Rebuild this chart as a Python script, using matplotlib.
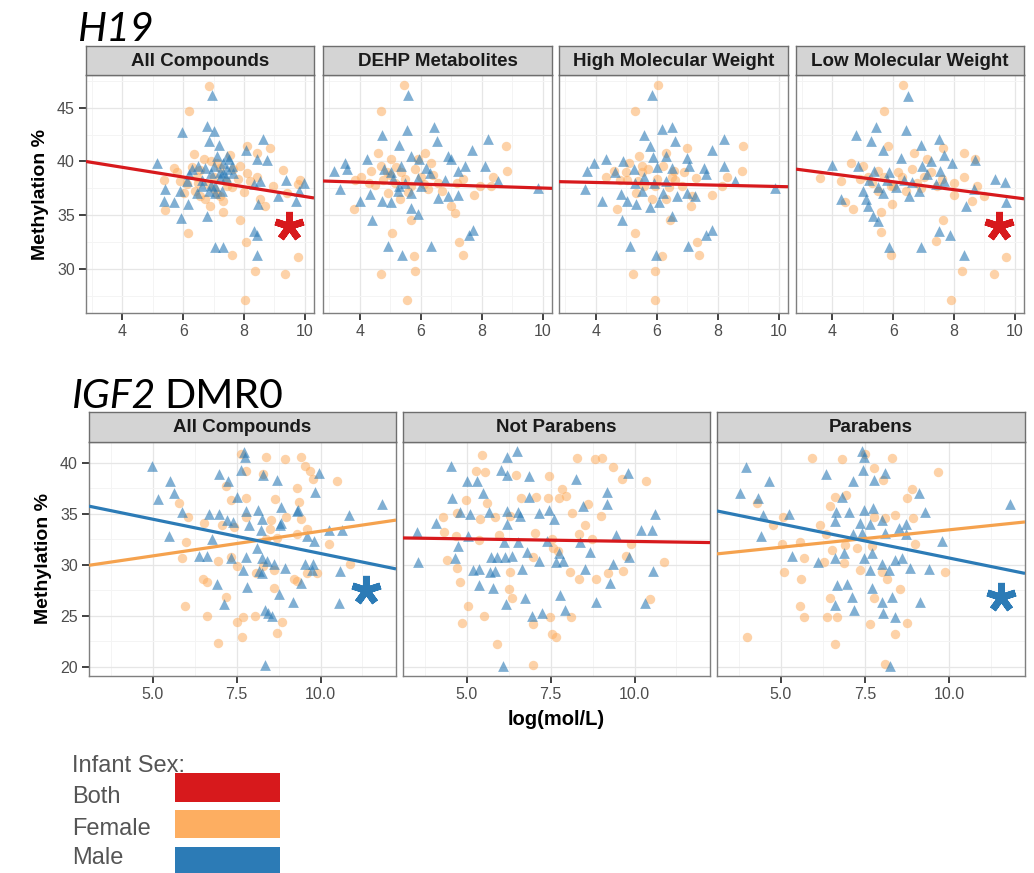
import matplotlib
matplotlib.use('Agg')
import matplotlib.pyplot as plt
from matplotlib.patches import Rectangle
from matplotlib.ticker import MultipleLocator

# ---------------- data ----------------
RED, ORANGE, BLUE = '#D7191C', '#FDAE61', '#2C7BB6'

h19_panels = ['All Compounds', 'DEHP Metabolites', 'High Molecular Weight', 'Low Molecular Weight']
igf2_panels = ['All Compounds', 'Not Parabens', 'Parabens']

h19_all_female = [(6.86,47.0),(6.19,44.7),(6.34,40.7),(7.54,40.6),(8.09,41.4),(8.42,40.8),(8.85,41.3),(9.27,39.2),
    (9.84,38.3),(9.76,37.9),(5.68,39.4),(5.36,38.3),(5.41,35.5),(6.14,33.3),(7.87,34.6),(8.07,32.5),(7.6,31.3),
    (8.36,29.8),(9.34,29.5),(9.76,31.1),(8.03,27.1),(7.32,35.3),(6.89,35.9),(6.56,36.8),(8.52,36.5),(8.68,35.9),
    (8.42,38.6),(8.2,38.2),(7.65,39.3),(7.1,39.9),(6.67,40.2),(6.45,38.6),(6.12,37.9),(5.79,39.0),(7.0,37.4),
    (7.43,37.7),(7.87,39.6),(8.96,37.7),(9.4,37.1),(6.56,39.2),(6.01,37.1),(7.21,36.8),(8.09,38.9),
    (6.3,39.5),(6.5,38.0),(6.8,37.9),(7.0,38.6),(7.2,39.4),(7.4,38.2),(7.6,37.6),(7.8,38.4),(6.9,40.0),
    (6.4,37.3),(7.3,36.3),(6.7,36.5),(8.0,37.2),(5.9,38.2),(7.1,37.0)]
h19_all_male = [(6.93,46.2),(5.97,42.7),(6.78,43.3),(7.0,42.8),(6.86,41.9),(7.16,41.5),(8.63,42.1),(8.07,41.1),
    (8.42,40.2),(8.74,40.1),(5.14,39.9),(6.28,39.3),(6.72,39.4),(7.32,39.9),(7.43,39.3),(7.65,38.9),(7.21,38.5),
    (7.05,37.7),(6.83,37.3),(6.45,37.1),(6.12,38.2),(5.9,37.3),(5.41,37.4),(5.36,36.3),(5.68,36.2),(6.17,36.0),
    (5.93,34.7),(6.61,37.7),(6.78,34.9),(7.05,37.1),(7.27,37.3),(8.31,37.9),(8.52,38.2),(9.38,38.3),(9.98,38.0),
    (9.82,37.3),(9.71,36.3),(8.47,36.0),(7.05,32.0),(7.32,32.0),(8.33,33.5),(8.44,33.2),(8.44,31.3),(9.13,36.8),
    (7.2,39.0),(7.4,38.6),(6.9,38.9),(7.5,40.2),(7.1,40.5),(6.6,38.3),
    (6.5,39.6),(6.9,37.8),(7.3,38.9),(7.6,39.6),(6.2,38.8),(7.0,39.6),(7.45,40.5)]

h19_dehp_female = [(5.45,47.1),(4.69,44.7),(8.8,41.4),(8.83,39.1),(8.36,38.6),(7.93,37.7),(7.76,36.9),(3.81,35.6),
    (7.0,35.9),(7.11,35.2),(5.06,33.3),(7.27,32.5),(7.38,31.3),(5.78,31.2),(5.82,29.8),(4.71,29.5),(5.55,27.1),
    (5.69,34.6),(4.6,40.8),(5.04,40.2),(6.13,40.8),(6.35,39.9),(4.05,38.6),(4.38,39.1),(4.76,38.3),(5.15,38.0),
    (5.36,39.0),(5.69,37.7),(6.02,38.6),(6.24,37.4),(6.56,38.0),(4.93,37.1),(4.71,39.6),(5.91,40.2),(5.31,36.5),
    (8.31,37.7),(3.84,38.3),
    (4.9,39.0),(5.2,39.5),(5.5,38.4),(5.8,39.3),(6.1,37.9),(4.5,37.8),(5.0,38.7),(5.6,37.2),(6.4,38.7),
    (4.3,38.0),(6.7,37.3),(7.4,38.4),(7.2,38.0)]
h19_dehp_male = [(5.58,46.2),(5.56,42.9),(4.73,42.5),(6.42,43.2),(6.54,41.9),(8.2,42.1),(7.68,41.1),(3.16,39.1),
    (3.51,39.9),(3.6,39.3),(3.35,37.4),(4.25,40.2),(5.28,41.5),(5.69,40.5),(5.96,40.2),(6.89,40.5),(7.0,40.2),
    (7.44,39.6),(7.22,39.1),(8.11,39.6),(8.53,38.2),(9.84,37.5),(4.0,36.3),(4.33,37.0),(4.73,36.3),(5.04,36.2),
    (5.25,37.3),(5.69,35.7),(5.91,35.1),(5.69,37.1),(6.56,36.6),(6.89,36.8),(7.22,36.9),(4.4,34.6),(4.93,32.1),
    (5.39,31.3),(6.35,32.1),(7.57,33.2),(7.71,33.6),(5.04,39.0),(5.36,39.6),(6.18,39.4),(6.78,38.3),(6.02,37.7),
    (5.1,38.4),(5.5,38.0),(5.9,38.5),(6.3,38.9),(4.8,39.3),(5.3,37.7)]

h19_high_female = [(6.05,47.1),(5.28,44.7),(8.83,41.4),(8.8,39.1),(8.31,38.6),(7.82,36.9),(4.69,35.6),(7.11,35.9),
    (5.29,33.3),(7.33,32.5),(7.4,31.3),(6.16,31.2),(5.94,29.8),(5.23,29.5),(5.93,27.1),(6.45,34.6),(7.0,41.3),
    (6.29,40.8),(5.42,40.5),(5.09,39.9),(4.33,38.6),(4.6,39.1),(5.04,38.3),(5.53,39.0),(5.96,37.7),(6.51,38.6),
    (6.84,37.7),(5.31,37.1),(5.85,36.5),(8.15,37.7),(7.16,36.8),(5.53,39.6),(6.56,39.1),(6.29,36.5),
    (5.4,38.2),(5.7,39.3),(6.0,38.4),(6.2,39.6),(6.4,37.6),(5.0,39.0),(5.6,37.7),(6.6,38.3),(6.9,39.0),
    (7.3,38.5),(4.8,38.3)]
h19_high_male = [(5.85,46.2),(5.58,42.5),(6.16,43.0),(6.49,43.2),(6.6,41.9),(5.77,41.4),(8.2,42.1),(7.82,41.1),
    (3.73,39.1),(3.95,39.9),(4.33,40.2),(3.65,37.4),(4.22,36.3),(4.82,37.0),(5.04,36.3),(5.31,36.0),(5.77,35.8),
    (6.07,36.2),(6.51,34.9),(4.87,34.6),(5.11,32.1),(5.99,31.3),(7.03,32.1),(7.6,33.2),(7.8,33.6),(4.64,39.0),
    (4.91,40.0),(5.24,39.3),(5.88,40.4),(6.29,40.5),(7.0,40.3),(7.05,39.6),(7.55,39.4),(7.6,38.8),(8.2,39.6),
    (8.56,38.2),(9.86,37.5),(5.53,37.3),(6.2,37.1),(6.67,36.8),(7.0,37.1),(7.27,36.8),
    (5.6,38.6),(5.9,38.0),(6.3,38.2),(6.0,39.5),(6.5,39.4),(5.3,38.0)]

h19_low_female = [(6.33,47.1),(5.71,44.7),(5.82,41.4),(6.68,40.8),(7.64,41.3),(8.32,40.8),(8.7,40.2),(4.62,39.9),
    (4.29,38.2),(3.59,38.5),(4.4,36.2),(4.67,35.6),(5.58,35.3),(5.58,33.4),(5.92,31.3),(7.41,32.6),(7.64,34.6),
    (7.91,27.1),(8.26,29.8),(9.32,29.5),(9.71,31.1),(8.97,36.8),(8.59,36.3),(7.99,36.9),(5.96,36.0),(5.16,38.6),
    (5.49,39.1),(6.14,39.0),(6.79,38.0),(7.23,39.0),(7.45,37.7),(8.32,38.6),(8.75,37.7),(6.41,37.3),(5.92,37.7),
    (5.0,39.6),(7.12,40.2),
    (5.3,38.0),(5.7,38.6),(6.0,37.7),(6.3,38.6),(6.6,39.3),(6.9,37.5),(7.0,38.6),(7.6,38.4),(5.5,37.3),
    (4.9,38.4),(8.0,38.0)]
h19_low_male = [(6.49,46.1),(4.78,42.5),(5.43,43.2),(5.27,41.9),(6.41,42.9),(5.65,41.1),(6.92,41.5),(7.5,42.1),
    (7.66,40.6),(8.7,40.1),(4.0,39.7),(4.84,39.6),(4.29,36.5),(5.0,37.3),(5.11,36.5),(5.16,35.9),(5.33,34.9),
    (5.49,34.5),(5.65,37.1),(5.87,39.0),(6.25,40.3),(6.52,36.8),(6.85,37.3),(6.96,39.6),(7.23,40.0),(7.55,39.1),
    (7.66,38.2),(7.93,39.9),(7.5,33.5),(7.88,33.2),(6.9,32.0),(5.85,32.0),(8.34,31.3),(8.4,35.9),(8.64,37.4),
    (9.35,38.4),(9.67,38.1),(9.71,36.2),(5.38,39.1),(6.36,38.3),
    (5.2,38.3),(5.5,37.6),(5.8,38.3),(6.1,37.6),(6.6,38.1),(7.1,38.8),(7.4,37.9)]

# fitted lines (intercept, slope)
h19_all_fit_both = (41.27, -0.453)
h19_dehp_fit_both = (38.44, -0.091)
h19_high_fit_both = (38.30, -0.063)
h19_low_fit_both = (40.32, -0.368)
h19_significant = [True, False, False, True]

igf2_all_female = [(7.62,40.9),(8.37,40.6),(8.93,40.4),(9.41,40.6),(9.55,39.7),(9.7,39.2),(9.78,38.4),(10.48,38.2),
    (7.77,39.2),(8.3,38.9),(7.18,37.7),(7.33,36.4),(7.77,36.6),(8.63,36.5),(9.3,37.5),(9.35,36.2),(5.77,36.1),
    (6.05,34.7),(6.54,34.1),(7.05,33.9),(7.41,33.7),(7.79,34.7),(8.53,34.4),(8.97,34.7),(9.43,34.5),(10.25,32.1),
    (10.89,30.1),(5.86,30.7),(6.0,32.2),(6.93,30.4),(7.33,30.8),(7.52,29.9),(8.07,29.2),(8.61,29.5),(9.21,28.6),
    (9.6,29.2),(9.9,29.2),(6.49,28.6),(6.63,28.3),(7.19,26.9),(5.95,26.0),(6.63,25.0),(7.5,24.4),(7.7,24.9),
    (8.05,25.0),(6.95,22.3),(7.67,22.9),(8.71,23.3),(8.86,24.4),(8.61,27.7),(9.3,28.4),(8.3,29.9),(8.37,32.5),
    (8.71,32.6),(8.5,33.5),(9.3,33.0),(9.6,33.5)]
igf2_all_male = [(4.97,39.7),(7.72,41.1),(7.74,40.6),(7.62,39.3),(8.3,38.8),(8.71,38.3),(6.98,38.9),(7.25,38.2),
    (5.52,38.2),(5.62,37.1),(5.17,36.5),(9.95,39.0),(9.83,37.2),(11.83,36.0),(10.84,34.9),(5.86,35.2),(6.68,35.0),
    (6.98,35.0),(7.5,36.7),(7.77,35.3),(8.14,35.4),(8.83,35.7),(9.33,35.4),(7.21,34.4),(7.38,34.2),(7.87,33.9),
    (8.27,34.5),(8.81,34.1),(5.47,32.8),(6.78,32.5),(8.22,33.4),(9.6,32.8),(10.25,33.4),(10.64,33.4),(9.8,32.3),
    (6.39,30.9),(6.63,30.9),(7.33,30.7),(7.77,30.8),(8.12,31.7),(8.27,30.7),(8.42,30.4),(8.61,30.1),(8.93,29.7),
    (9.55,30.1),(9.78,30.1),(9.75,29.5),(7.7,29.5),(8.17,29.4),(8.27,29.2),(10.57,29.4),(6.91,28.1),(7.8,27.8),
    (8.76,27.1),(9.41,28.2),(7.11,26.2),(9.19,26.4),(10.54,26.3),(8.34,25.6),(8.43,25.3),(8.56,25.0),(8.34,20.2),
    (9.31,35.3),(8.79,33.9)]

igf2_notpar_female = [(5.45,40.8),(8.29,40.5),(8.81,40.4),(9.04,40.5),(9.36,39.6),(5.28,39.2),(5.54,39.1),(6.47,38.8),
    (7.46,38.7),(9.63,38.4),(10.35,38.2),(4.98,36.4),(5.61,36.1),(6.63,36.6),(7.06,36.7),(7.43,36.6),(7.75,36.6),
    (7.85,37.4),(7.97,36.8),(8.61,36.0),(4.29,34.7),(4.7,35.1),(5.4,34.5),(5.84,34.7),(6.29,34.8),(8.15,35.1),
    (8.99,34.8),(8.51,33.9),(4.31,33.2),(4.68,32.8),(5.38,32.4),(5.97,32.9),(7.03,33.1),(7.55,32.5),(8.34,33.0),
    (8.74,32.5),(9.9,32.1),(6.96,30.8),(7.57,31.7),(7.72,31.4),(4.41,30.5),(4.72,29.7),(6.29,29.3),(6.27,27.6),
    (6.34,26.8),(8.07,29.3),(8.34,28.6),(8.86,28.6),(9.21,29.2),(9.74,30.9),(9.66,29.4),(10.89,30.3),(4.8,28.3),
    (5.05,26.0),(5.5,25.0),(4.85,24.3),(7.48,24.9),(6.98,24.2),(8.12,24.9),(7.53,23.2),(7.66,22.9),(5.89,22.2),
    (6.96,20.2),(10.47,26.7)]
igf2_notpar_male = [(6.49,41.2),(6.21,40.6),(4.52,39.7),(6.01,39.3),(6.21,38.8),(6.86,38.7),(8.25,38.4),(9.8,39.0),
    (5.0,38.2),(5.3,38.2),(5.48,37.1),(4.55,36.6),(6.86,36.7),(9.18,37.2),(9.18,36.0),(8.45,35.8),(4.8,35.2),
    (5.1,35.0),(5.65,35.2),(6.21,35.3),(6.52,35.2),(6.58,34.8),(7.16,35.1),(7.46,35.4),(7.6,34.5),(10.62,35.0),
    (4.09,34.1),(6.21,34.0),(10.2,33.4),(10.53,33.4),(9.46,32.9),(3.53,33.2),(5.05,32.8),(4.75,31.9),(6.11,32.2),
    (6.53,32.2),(7.38,32.3),(8.37,32.2),(8.66,31.3),(7.75,31.2),(6.8,31.3),(5.71,30.8),(5.91,30.8),(6.14,30.8),
    (6.34,30.9),(3.56,30.3),(4.65,30.7),(5.18,29.5),(5.38,29.6),(5.69,29.3),(5.84,29.4),(6.66,29.6),(7.16,30.4),
    (7.65,30.3),(7.87,30.4),(8.53,29.6),(9.37,30.1),(9.85,30.8),(10.55,29.4),(9.28,28.2),(5.37,28.0),(5.77,27.7),
    (6.17,26.2),(6.73,26.8),(7.79,27.0),(8.84,26.4),(10.3,26.3),(7.92,25.6),(6.95,25.0),(7.23,25.3),(6.07,20.1)]

igf2_par_female = [(5.92,40.5),(6.81,40.4),(8.3,40.5),(7.5,40.9),(7.77,39.5),(8.03,38.3),(9.68,39.1),(6.94,36.9),
    (6.61,36.7),(8.74,36.6),(8.89,37.4),(4.29,36.1),(5.07,34.7),(4.77,33.9),(6.15,33.9),(6.47,35.8),(7.75,34.7),
    (8.1,34.6),(8.39,34.9),(8.92,34.6),(5.03,32.1),(5.57,32.2),(6.35,33.0),(6.91,32.0),(7.26,31.7),(7.7,31.9),
    (8.99,32.1),(5.67,30.7),(6.29,30.3),(6.51,31.5),(6.86,30.2),(7.36,29.5),(8.0,29.3),(8.15,28.6),(5.1,29.3),
    (5.6,28.6),(9.88,29.3),(8.55,27.6),(6.47,26.8),(7.75,26.8),(5.57,26.0),(5.69,24.9),(6.37,24.9),(6.66,24.9),
    (7.65,24.2),(8.74,24.3),(8.4,23.2),(4.0,22.9),(6.61,22.2),(8.1,20.3)]
igf2_par_male = [(3.97,39.6),(7.41,41.2),(7.48,40.6),(7.44,39.3),(6.35,38.9),(8.1,39.0),(7.75,38.3),(7.14,38.2),
    (4.63,38.2),(3.77,37.1),(4.31,36.6),(6.81,36.7),(9.09,37.1),(11.79,36.0),(4.47,34.9),(5.23,35.0),(6.64,35.2),
    (7.01,35.2),(7.46,35.4),(7.74,35.6),(9.29,35.2),(4.41,32.8),(6.61,34.3),(7.36,34.1),(7.65,34.0),(8.0,34.4),
    (8.72,34.0),(8.5,33.6),(7.14,33.0),(8.7,33.0),(9.78,32.3),(5.33,30.9),(6.09,30.3),(6.61,30.7),(6.86,31.2),
    (7.46,30.7),(7.7,31.2),(7.65,29.5),(8.0,30.1),(8.2,29.5),(8.39,30.5),(8.59,30.7),(8.82,29.7),(9.39,29.6),
    (6.66,28.0),(6.96,28.1),(7.7,27.7),(7.11,26.9),(6.61,26.1),(8.3,26.9),(8.0,26.4),(9.12,26.4),(7.16,25.6),
    (8.03,25.3),(8.4,24.9),(8.23,20.1),(7.41,33.1),(8.1,33.1)]

igf2_all_fit_female = (28.46, 0.4847)
igf2_all_fit_male = (37.85, -0.6729)
igf2_notpar_fit_both = (32.80, -0.0496)
igf2_par_fit_female = (30.02, 0.3425)
igf2_par_fit_male = (37.37, -0.6696)

legend_labels = ['Both', 'Female', 'Male']
legend_colors = [RED, ORANGE, BLUE]

# ---------------- layout ----------------
W, H = 1034, 873
fig = plt.figure(figsize=(W / 100, H / 100), dpi=100)
fig.patch.set_facecolor('white')


def box(x0, y0, x1, y1):
    return [x0 / W, 1 - y1 / H, (x1 - x0) / W, (y1 - y0) / H]


TICKC = '#4D4D4D'
BORDER = '#7F7F7F'
FONT = ['Liberation Sans', 'DejaVu Sans']
LINE_ORANGE = '#F5A24E'


def make_panel(xs, strip_top, plot_top, plot_bot, title, xlim, ylim, xmaj, xmin, ymaj, ymin, show_y, xfmt):
    ax = fig.add_axes(box(xs[0], plot_top, xs[1], plot_bot))
    ax.set_xlim(*xlim)
    ax.set_ylim(*ylim)
    ax.xaxis.set_major_locator(MultipleLocator(xmaj))
    ax.xaxis.set_minor_locator(MultipleLocator(xmin))
    ax.yaxis.set_major_locator(MultipleLocator(ymaj))
    ax.yaxis.set_minor_locator(MultipleLocator(ymin))
    ax.grid(which='major', color='#E6E6E6', lw=0.9, zorder=0)
    ax.grid(which='minor', color='#F4F4F4', lw=0.7, zorder=0)
    ax.set_axisbelow(True)
    for s in ax.spines.values():
        s.set_color(BORDER)
        s.set_linewidth(1.0)
    ax.tick_params(which='minor', length=0)
    ax.tick_params(which='major', direction='out', length=5, width=1.3, color='#333333',
                   labelcolor=TICKC, labelsize=11.5, pad=3)
    if not show_y:
        ax.tick_params(axis='y', which='major', length=0, labelleft=False)
    if xfmt:
        ax.xaxis.set_major_formatter(plt.FuncFormatter(lambda v, p: f'{v:.1f}'))
    for lab in ax.get_xticklabels() + ax.get_yticklabels():
        lab.set_family(FONT)
    sax = fig.add_axes(box(xs[0], strip_top, xs[1], plot_top))
    sax.set_facecolor('#D4D4D4')
    sax.set_xticks([])
    sax.set_yticks([])
    for s in sax.spines.values():
        s.set_color('#6E6E6E')
        s.set_linewidth(1.0)
    sax.text(0.5, 0.47, title, transform=sax.transAxes, ha='center', va='center',
             fontsize=13.5, fontweight='bold', family=FONT, color='#1A1A1A')
    return ax


def scatter(ax, female, male):
    ax.scatter([p[0] for p in female], [p[1] for p in female], s=46, marker='o',
               color=ORANGE, alpha=0.55, linewidths=0, zorder=2)
    ax.scatter([p[0] for p in male], [p[1] for p in male], s=60, marker='^',
               color=BLUE, alpha=0.6, linewidths=0, zorder=3)


def fit(ax, coef, color):
    x0, x1 = ax.get_xlim()
    a, b = coef
    ax.plot([x0, x1], [a + b * x0, a + b * x1], color=color, lw=2.3, zorder=4, solid_capstyle='butt')


def star(ax, x, y, color):
    ax.plot([x], [y], marker=(5, 2, 0), markersize=21, markeredgewidth=5.0, color=color,
            zorder=5, linestyle='none')


# top row (H19)
top_x = [(86, 314), (323, 552), (559, 788), (796, 1024)]
h19_female_sets = [h19_all_female, h19_dehp_female, h19_high_female, h19_low_female]
h19_male_sets = [h19_all_male, h19_dehp_male, h19_high_male, h19_low_male]
h19_fits = [h19_all_fit_both, h19_dehp_fit_both, h19_high_fit_both, h19_low_fit_both]
for i, title in enumerate(h19_panels):
    ax = make_panel(top_x[i], 46, 75, 313, title, (2.8, 10.3), (25.9, 48.05), 2, 1, 5, 2.5, i == 0, False)
    scatter(ax, h19_female_sets[i], h19_male_sets[i])
    fit(ax, h19_fits[i], RED)
    if h19_significant[i]:
        star(ax, 9.48, 34.0, RED)
    if i == 0:
        ax.set_ylabel('Methylation %', fontsize=14, fontweight='bold', family=FONT, labelpad=6)

# bottom row (IGF2 DMR0)
bot_x = [(89, 396), (403, 710), (717, 1025)]
bot_axes = []
for i, title in enumerate(igf2_panels):
    ax = make_panel(bot_x[i], 412, 442, 676, title, (3.1, 12.25), (19.1, 42.06), 2.5, 1.25, 5, 2.5, i == 0, True)
    bot_axes.append(ax)
scatter(bot_axes[0], igf2_all_female, igf2_all_male)
fit(bot_axes[0], igf2_all_fit_female, LINE_ORANGE)
fit(bot_axes[0], igf2_all_fit_male, BLUE)
star(bot_axes[0], 11.37, 27.5, BLUE)
scatter(bot_axes[1], igf2_notpar_female, igf2_notpar_male)
fit(bot_axes[1], igf2_notpar_fit_both, RED)
scatter(bot_axes[2], igf2_par_female, igf2_par_male)
fit(bot_axes[2], igf2_par_fit_female, LINE_ORANGE)
fit(bot_axes[2], igf2_par_fit_male, BLUE)
star(bot_axes[2], 11.54, 26.9, BLUE)
bot_axes[0].set_ylabel('Methylation %', fontsize=14, fontweight='bold', family=FONT, labelpad=6)
bot_axes[1].set_xlabel('log(mol/L)', fontsize=14.5, fontweight='bold', family=FONT, labelpad=6)

# titles
fig.text(78 / W, 1 - 41 / H, 'H19', fontsize=29.5, style='italic', family=['Lato', 'DejaVu Sans'],
         va='baseline', ha='left', color='black')
t1 = fig.text(72 / W, 1 - 408 / H, 'IGF2', fontsize=29.5, style='italic', family=['Lato', 'DejaVu Sans'],
              va='baseline', ha='left', color='black')
fig.canvas.draw()
bb = t1.get_window_extent(renderer=fig.canvas.get_renderer())
fig.text(bb.x1 / W + 0.008, 1 - 408 / H, 'DMR0', fontsize=29.5, family=['Lato', 'DejaVu Sans'],
         va='baseline', ha='left', color='black')

# legend
fig.text(72 / W, 1 - 772 / H, 'Infant Sex:', fontsize=17, family=FONT, color='#555555', va='baseline')
leg_base = [803, 835, 864]
leg_rect = [(773, 802), (810, 838), (847, 876)]
for lab, col, yb, (r0, r1) in zip(legend_labels, legend_colors, leg_base, leg_rect):
    fig.text(72 / W, 1 - yb / H, lab, fontsize=17, family=FONT, color='#555555', va='baseline')
    fig.add_artist(Rectangle((175 / W, 1 - r1 / H), 105 / W, (r1 - r0) / H,
                             transform=fig.transFigure, facecolor=col, edgecolor='none'))

fig.savefig('out.png', dpi=100, facecolor='white')
